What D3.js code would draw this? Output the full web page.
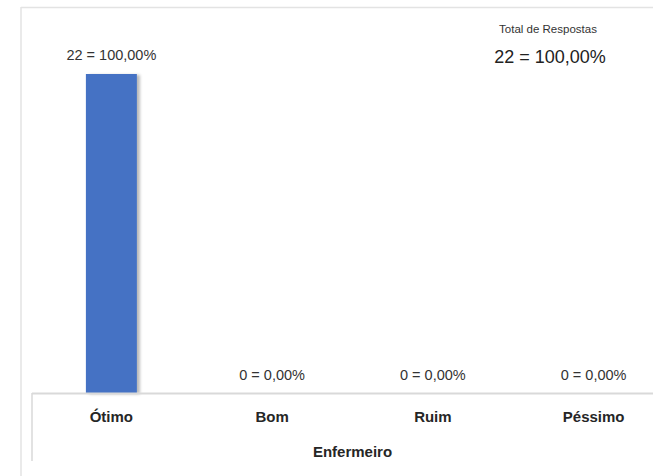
<!DOCTYPE html>
<html>
<head>
<meta charset="utf-8">
<script src="https://cdn.jsdelivr.net/npm/d3@7"></script>
<style>
  html, body { margin: 0; padding: 0; background: #fff; }
  svg { display: block; }
</style>
</head>
<body>
<script>
const categories = ["Ótimo", "Bom", "Ruim", "Péssimo"];
const counts = [22, 0, 0, 0];
const percents = ["100,00%", "0,00%", "0,00%", "0,00%"];
const axisTitle = "Enfermeiro";
const totalTitle = "Total de Respostas";
const totalLabel = "22 = 100,00%";

const W = 653, H = 476;
const svg = d3.select("body").append("svg").attr("width", W).attr("height", H);

const defs = svg.append("defs");
const f = defs.append("filter").attr("id", "sh").attr("x", "-20%").attr("y", "-5%").attr("width", "150%").attr("height", "110%");
f.append("feDropShadow").attr("dx", 3).attr("dy", 1).attr("stdDeviation", 1.6)
  .attr("flood-color", "#000").attr("flood-opacity", 0.28);

// outer frame (top and left edges)
svg.append("line").attr("x1", 21).attr("x2", W).attr("y1", 7.5).attr("y2", 7.5)
  .attr("stroke", "#e3e3e3").attr("stroke-width", 1.5);
svg.append("line").attr("x1", 21).attr("x2", 21).attr("y1", 7).attr("y2", H)
  .attr("stroke", "#e3e3e3").attr("stroke-width", 1.5);

const x = d3.scaleBand().domain(categories).range([31, 674])
  .paddingInner(0.683).paddingOuter(0.3415);
const y = d3.scaleLinear().domain([0, 22]).range([393, 74]);

const data = categories.map((c, i) => ({ c, v: counts[i], p: percents[i] }));

svg.append("g").selectAll("rect").data(data).join("rect")
  .attr("x", d => x(d.c))
  .attr("y", d => y(d.v))
  .attr("width", x.bandwidth())
  .attr("height", d => y(0) - y(d.v))
  .attr("fill", "#4472C4")
  .attr("filter", "url(#sh)");

// category axis box
svg.append("line").attr("x1", 32).attr("x2", W).attr("y1", 393.5).attr("y2", 393.5)
  .attr("stroke", "#d9d9d9").attr("stroke-width", 2);
svg.append("line").attr("x1", 32).attr("x2", 32).attr("y1", 393).attr("y2", 461)
  .attr("stroke", "#d9d9d9").attr("stroke-width", 1.5);

const xAxis = d3.axisBottom(x).tickSize(0).tickPadding(0);
const gx = svg.append("g").attr("transform", "translate(0,393)").call(xAxis);
gx.select(".domain").remove();
gx.selectAll("text")
  .attr("dy", null).attr("y", 29)
  .attr("font-family", "'Liberation Sans', Arial, sans-serif")
  .attr("font-size", 15).attr("font-weight", "bold").attr("fill", "#262626");

svg.append("text").attr("x", (x.range()[0] + x.range()[1]) / 2).attr("y", 457)
  .attr("text-anchor", "middle")
  .attr("font-family", "'Liberation Sans', Arial, sans-serif")
  .attr("font-size", 15).attr("font-weight", "bold").attr("fill", "#262626")
  .text(axisTitle);

// data labels
svg.append("g").selectAll("text").data(data).join("text")
  .attr("x", d => x(d.c) + x.bandwidth() / 2)
  .attr("y", d => y(d.v) - (d.v > 0 ? 14 : 13))
  .attr("text-anchor", "middle")
  .attr("font-family", "'Liberation Sans', Arial, sans-serif")
  .attr("font-size", 14.5).attr("fill", "#333")
  .text(d => d.v + " = " + d.p);

// total box
svg.append("text").attr("x", 548).attr("y", 33).attr("text-anchor", "middle")
  .attr("font-family", "'Liberation Sans', Arial, sans-serif")
  .attr("font-size", 11.5).attr("fill", "#333").text(totalTitle);
svg.append("text").attr("x", 550).attr("y", 63).attr("text-anchor", "middle")
  .attr("font-family", "'Liberation Sans', Arial, sans-serif")
  .attr("font-size", 18).attr("fill", "#222").text(totalLabel);
</script>
</body>
</html>
